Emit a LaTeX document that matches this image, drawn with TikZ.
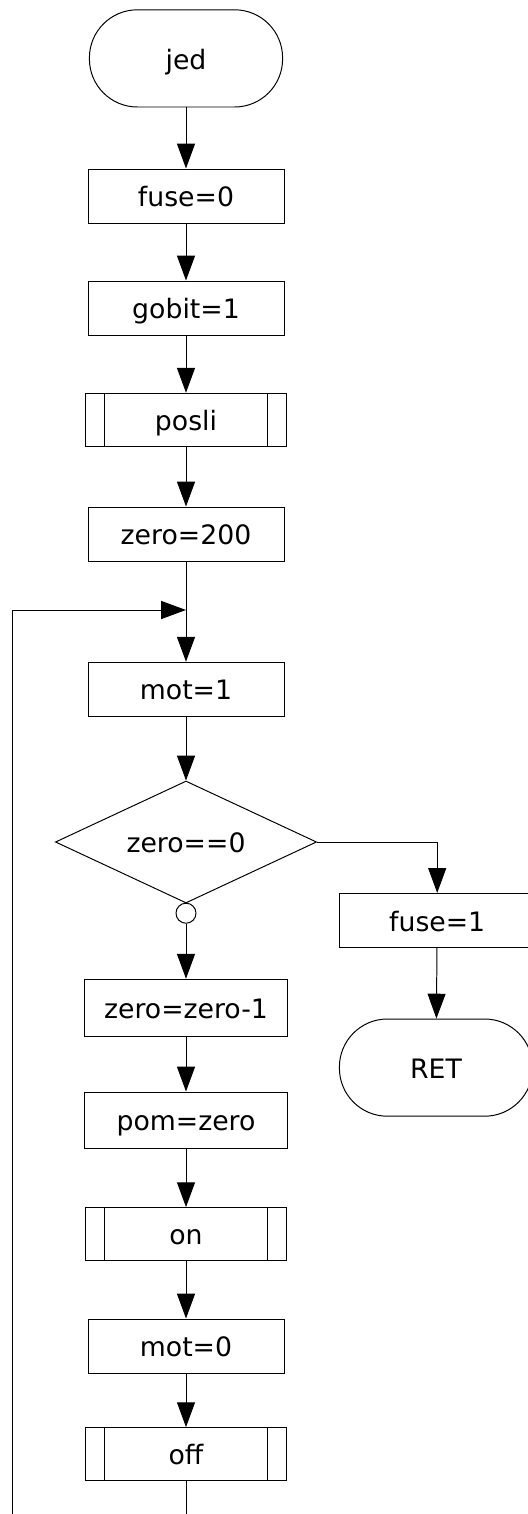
\documentclass[tikz,border=0pt]{standalone}
\usepackage{fontspec}
\setmainfont{DejaVu Sans}
\usetikzlibrary{arrows.meta,shapes.geometric}

\begin{document}
\begin{tikzpicture}[line width=0.7pt,
		every node/.style={draw, font=\fontsize{19}{23}\selectfont, inner sep=0pt, text height=15.2pt, text depth=0pt},
		term/.style={rectangle, rounded corners=1.2cm, minimum width=4.83cm, minimum height=2.43cm},
		proc/.style={rectangle, minimum width=4.9cm, minimum height=1.35cm},
		sub/.style={proc, minimum width=5.03cm, minimum height=1.32cm,
			path picture={
				\draw ([xshift=0.48cm]path picture bounding box.north west) -- ([xshift=0.48cm]path picture bounding box.south west);
				\draw ([xshift=-0.48cm]path picture bounding box.north east) -- ([xshift=-0.48cm]path picture bounding box.south east);
			}},
		cond/.style={diamond, aspect=2.1, minimum width=6.53cm, minimum height=3.05cm},
		dot/.style={circle, minimum size=0.5cm, text height=, text depth=},
		flow/.style={-{Triangle[length=0.62cm,width=0.45cm]}}]
	\useasboundingbox (0,0) rectangle (13.2,-37.85);
	\clip (0,0) rectangle (13.2,-37.85);
	% main column
	\node[term] (jed) at (4.65,-1.46) [] {jed};
	\node[proc] (fuse0) at (4.65,-4.9) [] {fuse=0};
	\node[proc] (gobit) at (4.65,-7.7) [] {gobit=1};
	\node[sub] (posli) at (4.65,-10.49) [] {posli};
	\node[proc] (zero200) at (4.65,-13.35) [] {zero=200};
	\coordinate (join) at (4.65,-15.25);
	\node[proc] (mot1) at (4.65,-17.23) [] {mot=1};
	\node[cond] (test) at (4.65,-21.05) [] {zero==0};
	\node[dot] (no) at (4.65,-22.83) [] {};
	\node[proc, minimum width=5.08cm, minimum height=1.42cm] (zerodec) at (4.65,-25.19) [] {zero=zero-1};
	\node[proc, minimum width=5.08cm, minimum height=1.4cm] (pom) at (4.65,-28) [] {pom=zero};
	\node[sub] (on) at (4.65,-30.85) [] {on};
	\node[proc] (mot0) at (4.65,-33.65) [] {mot=0};
	\node[sub] (off) at (4.65,-36.35) [] {off};
	% exit branch
	\node[proc] (fuse1) at (10.93,-23.01) [] {fuse=1};
	\node[term] (ret) at (10.9,-26.69) [] {RET};
	\coordinate (loopbot) at (0.3,-38.4);
	\draw[flow] (jed) -- (fuse0);
	\draw[flow] (fuse0) -- (gobit);
	\draw[flow] (gobit) -- (posli);
	\draw[flow] (posli) -- (zero200);
	\draw[flow] (zero200) -- (mot1);
	\draw[flow] (mot1) -- (test);
	\draw[flow] (no) -- (zerodec);
	\draw[flow] (zerodec) -- (pom);
	\draw[flow] (pom) -- (on);
	\draw[flow] (on) -- (mot0);
	\draw[flow] (mot0) -- (off);
	\draw[flow] (test) -| (fuse1);
	\draw[flow] (fuse1) -- (ret);
	% back to the top of the loop
	\draw[flow] (off) |- (loopbot) |- (join);
\end{tikzpicture}
\end{document}
